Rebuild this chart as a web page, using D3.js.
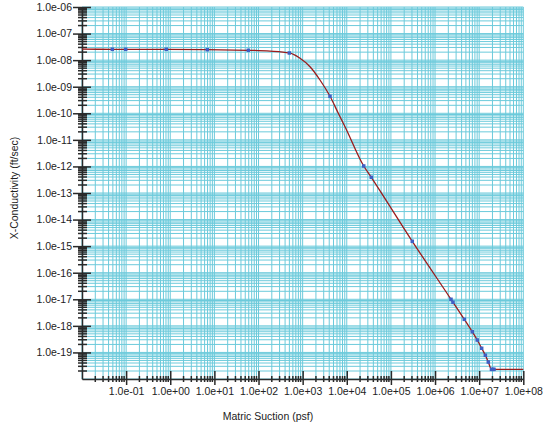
<!DOCTYPE html>
<html>
<head>
<meta charset="utf-8">
<script src="https://cdn.jsdelivr.net/npm/d3@7"></script>
<style>
  html, body { margin: 0; padding: 0; background: #fff; }
  svg { display: block; }
  text { font-family: "Liberation Sans", Arial, sans-serif; fill: #222; }
</style>
</head>
<body>
<svg id="chart" width="543" height="429"></svg>
<script>
// Measured data points (suction in psf, conductivity in ft/sec)
const pointSuction = [0.0487, 0.0977, 0.81, 6.9, 58.7, 499, 4170, 24200, 35900, 305000,
  2.3e6, 2.55e6, 4.6e6, 6.98e6, 9.06e6, 1.14e7, 1.38e7, 1.61e7, 1.9e7, 2.05e7, 2.17e7];
const pointConductivity = [2.56e-8, 2.56e-8, 2.56e-8, 2.47e-8, 2.35e-8, 1.86e-8, 4.36e-10, 1.04e-12, 3.9e-13, 1.52e-15,
  1.0e-17, 7.7e-18, 1.76e-18, 6.0e-19, 2.93e-19, 1.43e-19, 7.8e-20, 4.35e-20, 2.31e-20, 2.31e-20, 2.31e-20];

// Fitted conductivity function
const curveSuction = [0.01, 0.0487, 0.81, 58.7, 182, 499, 871, 1469, 2473, 4170, 6430, 9120,
  24200, 35900, 305000, 2.3e6, 4.6e6, 6.98e6, 9.06e6, 1.14e7, 1.38e7, 1.61e7, 1.9e7, 2.17e7, 1e8];
const curveConductivity = [2.58e-8, 2.56e-8, 2.56e-8, 2.35e-8, 2.2e-8, 1.86e-8, 1.17e-8, 5.66e-9, 1.79e-9, 4.36e-10, 1.0e-10, 3.13e-11,
  1.04e-12, 3.9e-13, 1.52e-15, 1.0e-17, 1.76e-18, 6.0e-19, 2.93e-19, 1.43e-19, 7.8e-20, 4.35e-20, 2.31e-20, 2.31e-20, 2.31e-20];

// Axis decades and labels
const xExponents = [-2, -1, 0, 1, 2, 3, 4, 5, 6, 7, 8];
const xTickLabels = ["", "1.0e-01", "1.0e+00", "1.0e+01", "1.0e+02", "1.0e+03", "1.0e+04",
  "1.0e+05", "1.0e+06", "1.0e+07", "1.0e+08"];
const yExponents = [-20, -19, -18, -17, -16, -15, -14, -13, -12, -11, -10, -9, -8, -7, -6];
const yTickLabels = ["", "1.0e-19", "1.0e-18", "1.0e-17", "1.0e-16", "1.0e-15", "1.0e-14",
  "1.0e-13", "1.0e-12", "1.0e-11", "1.0e-10", "1.0e-09", "1.0e-08", "1.0e-07", "1.0e-06"];

const xTitle = "Matric Suction (psf)";
const yTitle = "X-Conductivity (ft/sec)";

const svg = d3.select("#chart");
const plotLeft = 82, plotRight = 523.3, plotTop = 7, plotBottom = 379;

const x = d3.scaleLog().domain([1e-2, 1e8]).range([plotLeft, plotRight]);
const y = d3.scaleLog().domain([1e-20, 1e-6]).range([plotBottom, plotTop]);

const xMajor = xExponents.map(e => Math.pow(10, e));
const yMajor = yExponents.map(e => Math.pow(10, e));
const minorOf = majors => majors.slice(0, -1).flatMap(v => d3.range(2, 10).map(m => m * v));
const xMinor = minorOf(xMajor);
const yMinor = minorOf(yMajor);

// Grid
const grid = svg.append("g").attr("stroke", "#6ccadb").attr("stroke-width", 1).attr("fill", "none");
grid.selectAll("line.v").data(xMajor.concat(xMinor)).join("line")
  .attr("class", "v")
  .attr("x1", d => x(d)).attr("x2", d => x(d))
  .attr("y1", plotTop).attr("y2", plotBottom);
grid.selectAll("line.h").data(yMajor.concat(yMinor)).join("line")
  .attr("class", "h")
  .attr("x1", plotLeft).attr("x2", plotRight)
  .attr("y1", d => y(d)).attr("y2", d => y(d));

// Axes
const axisColor = "#2a2a2a";
const xAxis = svg.append("g").attr("transform", `translate(0,${plotBottom})`)
  .call(d3.axisBottom(x).tickValues(xMajor).tickFormat((d, i) => xTickLabels[i]).tickSizeOuter(0));
xAxis.select(".domain").attr("stroke", axisColor).attr("stroke-width", 1.5);
xAxis.selectAll(".tick line").attr("stroke", axisColor).attr("stroke-width", 1.5)
  .attr("y1", -8).attr("y2", 6)
  .attr("display", (d, i) => xTickLabels[i] ? null : "none");
xAxis.selectAll(".tick text").attr("y", 16).attr("dy", "0em")
  .attr("dominant-baseline", "auto").style("font-size", "10.5px").style("fill", "#222");

const xMinorG = svg.append("g").attr("stroke", axisColor).attr("stroke-width", 1.5);
xMinorG.selectAll("line").data(xMinor).join("line")
  .attr("x1", d => x(d)).attr("x2", d => x(d))
  .attr("y1", plotBottom - 3).attr("y2", plotBottom + 3);

const yAxis = svg.append("g").attr("transform", `translate(${plotLeft},0)`)
  .call(d3.axisLeft(y).tickValues(yMajor).tickFormat((d, i) => yTickLabels[i]).tickSizeOuter(0));
yAxis.select(".domain").attr("stroke", axisColor).attr("stroke-width", 1.5);
yAxis.selectAll(".tick line").attr("stroke", axisColor).attr("stroke-width", 1.5)
  .attr("x1", -9).attr("x2", 9)
  .attr("display", (d, i) => yTickLabels[i] ? null : "none");
yAxis.selectAll(".tick text").attr("x", -10).style("font-size", "10.5px").style("fill", "#222");

const yMinorG = svg.append("g").attr("stroke", axisColor).attr("stroke-width", 1.5);
yMinorG.selectAll("line").data(yMinor).join("line")
  .attr("x1", plotLeft - 4).attr("x2", plotLeft + 5)
  .attr("y1", d => y(d)).attr("y2", d => y(d));

// Conductivity function
const curveData = curveSuction.map((s, i) => [s, curveConductivity[i]]);
const line = d3.line().x(d => x(d[0])).y(d => y(d[1])).curve(d3.curveMonotoneX);
svg.append("path").datum(curveData)
  .attr("d", line)
  .attr("fill", "none")
  .attr("stroke", "#9b1c1c")
  .attr("stroke-width", 1.3);

// Data points
const pts = pointSuction.map((s, i) => [s, pointConductivity[i]]);
svg.append("g").selectAll("rect").data(pts).join("rect")
  .attr("x", d => x(d[0]) - 1.75).attr("y", d => y(d[1]) - 1.75)
  .attr("width", 3.5).attr("height", 3.5)
  .attr("fill", "#3f5fc4");

// Titles
svg.append("text").attr("x", 268).attr("y", 420)
  .attr("text-anchor", "middle").style("font-size", "10.5px").text(xTitle);
svg.append("text").attr("transform", "translate(18,188) rotate(-90)")
  .attr("text-anchor", "middle").style("font-size", "10.5px").text(yTitle);
</script>
</body>
</html>
